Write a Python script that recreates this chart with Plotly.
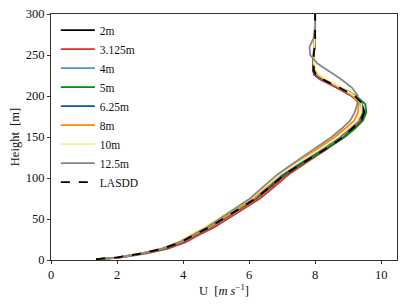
import plotly.graph_objects as go

heights = [1, 3, 8, 14, 22, 30, 40, 50, 60, 75, 90, 105, 120, 135, 150, 160, 170, 180, 190, 200, 210, 220, 226, 232, 240, 250, 260, 270, 285, 300]

u_2m = [1.37, 1.98, 2.74, 3.38, 3.95, 4.32, 4.82, 5.22, 5.62, 6.22, 6.68, 7.13, 7.72, 8.32, 8.87, 9.15, 9.42, 9.5, 9.42, 9.12, 8.68, 8.18, 7.97, 7.93, 7.94, 7.96, 7.98, 8.0, 8.0, 8.0]
u_3125m = [1.42, 2.1, 2.9, 3.55, 4.1, 4.45, 4.95, 5.35, 5.75, 6.33, 6.78, 7.22, 7.78, 8.35, 8.87, 9.14, 9.38, 9.45, 9.38, 9.1, 8.65, 8.15, 7.98, 7.95, 7.96, 7.97, 7.99, 8.0, 8.0, 8.0]
u_4m = [1.4, 2.02, 2.8, 3.45, 4.0, 4.35, 4.85, 5.25, 5.65, 6.22, 6.65, 7.08, 7.65, 8.22, 8.76, 9.05, 9.32, 9.42, 9.4, 9.15, 8.72, 8.22, 8.0, 7.95, 7.95, 7.96, 7.98, 8.0, 8.0, 8.0]
u_5m = [1.38, 2.0, 2.78, 3.42, 3.98, 4.33, 4.83, 5.23, 5.63, 6.22, 6.67, 7.12, 7.72, 8.33, 8.9, 9.2, 9.45, 9.55, 9.52, 9.25, 8.8, 8.28, 8.03, 7.96, 7.95, 7.96, 7.98, 8.0, 8.0, 8.0]
u_625m = [1.38, 2.0, 2.76, 3.4, 3.96, 4.3, 4.8, 5.2, 5.6, 6.18, 6.62, 7.05, 7.62, 8.2, 8.74, 9.03, 9.3, 9.42, 9.42, 9.18, 8.74, 8.24, 8.01, 7.96, 7.95, 7.96, 7.98, 8.0, 8.0, 8.0]
u_8m = [1.4, 2.0, 2.75, 3.38, 3.95, 4.3, 4.8, 5.2, 5.58, 6.15, 6.57, 6.98, 7.52, 8.08, 8.6, 8.9, 9.18, 9.3, 9.32, 9.15, 8.75, 8.28, 8.06, 7.98, 7.95, 7.96, 7.98, 8.0, 8.0, 8.0]
u_10m = [1.4, 1.98, 2.72, 3.32, 3.85, 4.18, 4.65, 5.05, 5.45, 6.03, 6.5, 6.96, 7.55, 8.15, 8.7, 9.0, 9.28, 9.4, 9.4, 9.2, 8.82, 8.35, 8.12, 8.02, 7.97, 7.96, 7.97, 7.99, 8.0, 8.0]
u_125m = [1.4, 2.0, 2.74, 3.36, 3.9, 4.25, 4.72, 5.1, 5.48, 6.03, 6.45, 6.88, 7.42, 7.97, 8.5, 8.8, 9.06, 9.2, 9.28, 9.3, 9.12, 8.8, 8.58, 8.36, 8.06, 7.85, 7.83, 7.95, 8.0, 8.0]
u_lasdd = [1.37, 1.98, 2.75, 3.4, 3.95, 4.3, 4.8, 5.2, 5.6, 6.2, 6.65, 7.1, 7.7, 8.3, 8.85, 9.12, 9.38, 9.48, 9.45, 9.2, 8.75, 8.25, 8.02, 7.96, 7.95, 7.96, 7.98, 8.0, 8.0, 8.0]

series_names = ["2m", "3.125m", "4m", "5m", "6.25m", "8m", "10m", "12.5m", "LASDD"]
series_values = [u_2m, u_3125m, u_4m, u_5m, u_625m, u_8m, u_10m, u_125m, u_lasdd]
series_colors = ["#000000", "#e8282b", "#4f93d3", "#0a8a0a", "#1c4fa0", "#ff8a0a", "#fbec8c", "#878787", "#000000"]
series_dash = ["solid"] * 8 + ["dash"]

x_ticks = [0, 2, 4, 6, 8, 10]
y_ticks = [0, 50, 100, 150, 200, 250, 300]

font_family = "Liberation Serif, DejaVu Serif, serif"

fig = go.Figure()
for name, vals, col, dash in zip(series_names, series_values, series_colors, series_dash):
    fig.add_trace(go.Scatter(
        x=vals, y=heights, mode="lines", name=name,
        line=dict(color=col, width=1.8, dash=dash),
    ))

# page body has an 8px default margin; size the figure to compensate
fig.update_layout(
    width=399, height=297,
    margin=dict(l=43, r=10, t=6, b=45),
    paper_bgcolor="white", plot_bgcolor="white",
    font=dict(family=font_family, size=12, color="#111"),
    showlegend=True,
    legend=dict(
        x=0.014, y=0.993, xanchor="left", yanchor="top",
        bgcolor="rgba(0,0,0,0)", borderwidth=0,
        font=dict(family=font_family, size=11.5, color="#111"),
        tracegroupgap=0, itemwidth=34,
    ),
    xaxis=dict(
        range=[0, 10.48], tickvals=x_ticks, ticktext=[str(v) for v in x_ticks],
        showgrid=False, zeroline=False, automargin=False,
        showline=True, linecolor="#333", linewidth=1, mirror=True,
        ticks="outside", ticklen=3, tickcolor="#333",
        ticklabeloverflow="allow",
        tickfont=dict(family=font_family, size=12.5),
        title=dict(text="U  [<i>m s</i><sup>−1</sup>]", standoff=0,
                   font=dict(family=font_family, size=12.5)),
    ),
    yaxis=dict(
        range=[0, 300], tickvals=y_ticks, ticktext=[str(v) for v in y_ticks],
        showgrid=False, zeroline=False, automargin=False,
        showline=True, linecolor="#333", linewidth=1, mirror=True,
        ticks="outside", ticklen=3, tickcolor="#333",
        ticklabeloverflow="allow",
        tickfont=dict(family=font_family, size=12.5),
        title=dict(text="Height  [m]", standoff=4,
                   font=dict(family=font_family, size=12.5)),
    ),
)

fig.write_html("out.html")
